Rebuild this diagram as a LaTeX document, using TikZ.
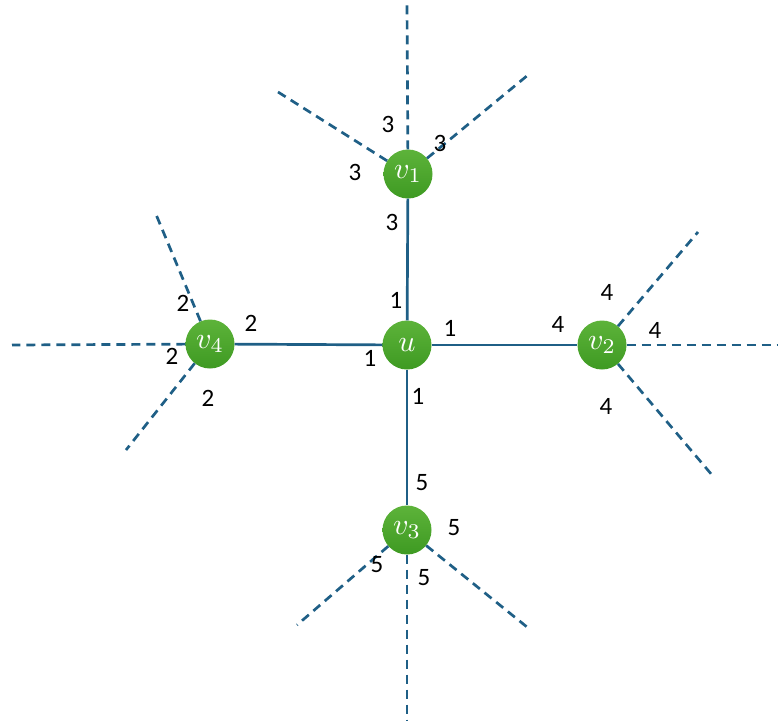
\documentclass[tikz,border=0pt]{standalone}
\usepackage{fontspec}
\usepackage{graphicx}
\setmainfont{Carlito}
\newcommand{\nlab}[1]{\scalebox{3}{$#1$}}
\newcommand{\elab}[1]{\scalebox{2.5}{#1}}
\begin{document}
\begin{tikzpicture}[x=1pt,y=-1pt,
  ball/.style={circle,minimum size=49pt,inner sep=0pt,top color=ballTop,bottom color=ballBot,draw=none,text=white},
  sedge/.style={draw=edgeC,line width=2.7pt},
  dedge/.style={draw=edgeC,line width=2.7pt,dash pattern=on 9pt off 6pt},
  lab/.style={text=black,inner sep=0pt}]
\definecolor{ballTop}{HTML}{5DB33A}
\definecolor{ballBot}{HTML}{3E9A22}
\definecolor{edgeC}{HTML}{1F5F86}
\useasboundingbox (0,0) rectangle (784,724);
% nodes
\node[ball] (u)  at (407,345) {\nlab{u}};
\node[ball] (v1) at (408,174) {\nlab{v_1}};
\node[ball] (v2) at (602,345) {\nlab{v_2}};
\node[ball] (v3) at (407,530) {\nlab{v_3}};
\node[ball] (v4) at (210,344) {\nlab{v_4}};
% outer coordinates
\coordinate (a1) at (407,5);
\coordinate (a2) at (278,92);
\coordinate (a3) at (528,75);
\coordinate (b1) at (698,232);
\coordinate (b2) at (778,345);
\coordinate (b3) at (712,475);
\coordinate (c1) at (407,720);
\coordinate (c2) at (297,625);
\coordinate (c3) at (527,627);
\coordinate (d1) at (155,212);
\coordinate (d2) at (12,345);
\coordinate (d3) at (126,450);
% solid edges
\draw[sedge] (u) -- (v1);
\draw[sedge] (u) -- (v2);
\draw[sedge] (u) -- (v3);
\draw[sedge] (u) -- (v4);
% dashed edges
\draw[dedge] (v1) -- (a1);
\draw[dedge] (v1) -- (a2);
\draw[dedge] (v1) -- (a3);
\draw[dedge] (v2) -- (b1);
\draw[dedge] (v2) -- (b2);
\draw[dedge] (v2) -- (b3);
\draw[dedge] (v3) -- (c1);
\draw[dedge] (v3) -- (c2);
\draw[dedge] (v3) -- (c3);
\draw[dedge] (v4) -- (d1);
\draw[dedge] (v4) -- (d2);
\draw[dedge] (v4) -- (d3);
% labels
\node[lab] (l31) at (388,124) {\elab{3}};
\node[lab] (l32) at (440,143) {\elab{3}};
\node[lab] (l33) at (355,172) {\elab{3}};
\node[lab] (l34) at (392,222) {\elab{3}};
\node[lab] (l11) at (396,300) {\elab{1}};
\node[lab] (l12) at (450,328) {\elab{1}};
\node[lab] (l13) at (370,358) {\elab{1}};
\node[lab] (l14) at (418,396) {\elab{1}};
\node[lab] (l21) at (183,303) {\elab{2}};
\node[lab] (l22) at (251,323) {\elab{2}};
\node[lab] (l23) at (172,356) {\elab{2}};
\node[lab] (l24) at (208,398) {\elab{2}};
\node[lab] (l41) at (607,292) {\elab{4}};
\node[lab] (l42) at (558,324) {\elab{4}};
\node[lab] (l43) at (655,330) {\elab{4}};
\node[lab] (l44) at (606,406) {\elab{4}};
\node[lab] (l51) at (422,483) {\elab{5}};
\node[lab] (l52) at (454,528) {\elab{5}};
\node[lab] (l53) at (377,565) {\elab{5}};
\node[lab] (l54) at (424,578) {\elab{5}};
\end{tikzpicture}
\end{document}
